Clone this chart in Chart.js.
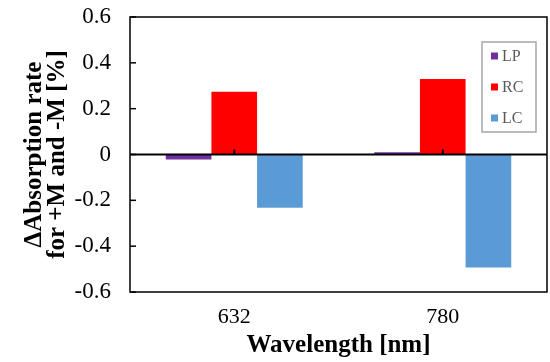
<!DOCTYPE html>
<html>
<head>
<meta charset="utf-8">
<script src="https://cdn.jsdelivr.net/npm/chart.js@4/dist/chart.umd.min.js"></script>
<style>
  html, body { margin: 0; padding: 0; background: #fff; }
  #wrap { width: 550px; height: 362px; }
</style>
</head>
<body>
<div id="wrap"><canvas id="c" width="550" height="362"></canvas></div>
<script>
const categories = ['632', '780'];
const seriesNames = ['LP', 'RC', 'LC'];
const lpValues = [-0.022, 0.010];
const rcValues = [0.274, 0.330];
const lcValues = [-0.232, -0.493];
const seriesColors = ['#7030A0', '#FF0000', '#5B9BD5'];
const yTitle = ['\u0394Absorption rate', 'for +M and -M [%]'];
const xTitle = 'Wavelength [nm]';

const serif = '"Liberation Serif", "Times New Roman", serif';

const framePlugin = {
  id: 'frame',
  afterDatasetsDraw(chart) {
    const { ctx, chartArea: a, scales } = chart;
    const y = scales.y, x = scales.x;
    ctx.save();
    const y0 = y.getPixelForValue(0);
    ctx.strokeStyle = '#000';
    ctx.lineWidth = 2;
    ctx.beginPath();
    ctx.moveTo(a.left, y0);
    ctx.lineTo(a.right, y0);
    ctx.stroke();
    ctx.lineWidth = 2;
    x.ticks.forEach((t, i) => {
      const px = x.getPixelForTick(i);
      ctx.beginPath();
      ctx.moveTo(px, y0);
      ctx.lineTo(px, y0 - 5);
      ctx.stroke();
    });
    ctx.lineWidth = 1.5;
    y.ticks.forEach((t, i) => {
      const py = y.getPixelForTick(i);
      ctx.beginPath();
      ctx.moveTo(a.left, py);
      ctx.lineTo(a.left + 6, py);
      ctx.stroke();
    });
    ctx.lineWidth = 1.5;
    ctx.strokeRect(a.left, a.top, a.right - a.left, a.bottom - a.top);
    ctx.restore();
  },
  afterDraw(chart) {
    const { ctx, chartArea: a } = chart;
    const bx = a.right - 65, by = a.top + 25, bw = 54, bh = 90;
    ctx.save();
    ctx.fillStyle = '#fff';
    ctx.fillRect(bx, by, bw, bh);
    ctx.strokeStyle = '#a6a6a6';
    ctx.lineWidth = 1.5;
    ctx.strokeRect(bx, by, bw, bh);
    ctx.font = '16px ' + serif;
    ctx.textBaseline = 'middle';
    ctx.textAlign = 'left';
    chart.data.datasets.forEach((ds, i) => {
      const cy = by + 14 + i * 31;
      ctx.fillStyle = ds.backgroundColor;
      ctx.fillRect(bx + 9, cy - 3.5, 7, 7);
      ctx.fillStyle = '#595959';
      ctx.fillText(ds.label, bx + 20, cy + 1);
    });
    ctx.restore();
  }
};

const datasets = [lpValues, rcValues, lcValues].map((vals, i) => ({
  label: seriesNames[i],
  data: vals,
  backgroundColor: seriesColors[i],
  borderWidth: 0,
  categoryPercentage: 0.657,
  barPercentage: 1.0
}));

new Chart(document.getElementById('c'), {
  type: 'bar',
  data: { labels: categories, datasets },
  options: {
    responsive: false,
    animation: false,
    devicePixelRatio: 1,
    layout: { padding: { left: 0, right: 3, top: 17, bottom: 0 } },
    plugins: { legend: { display: false }, tooltip: { enabled: false } },
    scales: {
      x: {
        grid: { display: false, drawTicks: false },
        border: { display: false },
        ticks: { color: '#000', font: { family: serif, size: 22 }, padding: 12, maxRotation: 0 },
        title: {
          display: true, text: xTitle, color: '#000',
          font: { family: serif, size: 25, weight: 'bold', lineHeight: 1.0 },
          padding: { top: 0, bottom: 4 }
        },
        afterFit(s) { s.height = 70; s.paddingLeft = 0; s.paddingRight = 0; }
      },
      y: {
        min: -0.6, max: 0.6,
        grid: { display: false, drawTicks: false },
        border: { display: false },
        ticks: {
          stepSize: 0.2, color: '#000', font: { family: serif, size: 23 }, padding: 19,
          callback: v => { const r = Math.round(v * 10) / 10; return r === 0 ? '0' : r.toFixed(1); }
        },
        title: {
          display: true, text: yTitle, color: '#000',
          font: { family: serif, size: 25, weight: 'bold', lineHeight: 0.92 },
          padding: { top: 23, bottom: 0 }
        },
        afterFit(s) { s.width = 130; s.paddingTop = 0; s.paddingBottom = 0; }
      }
    }
  },
  plugins: [framePlugin]
});
</script>
</body>
</html>
